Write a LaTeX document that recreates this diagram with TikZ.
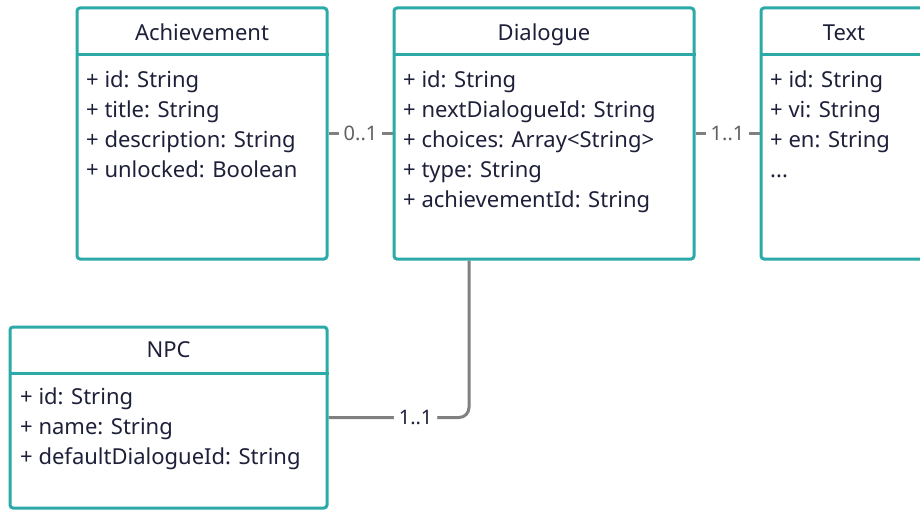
\documentclass[tikz,border=0pt]{standalone}
\usepackage{fontspec}
\setmainfont{Noto Sans}
\usetikzlibrary{backgrounds}

\definecolor{umlteal}{RGB}{43,170,168}
\definecolor{umlink}{RGB}{30,32,58}
\definecolor{linkgray}{RGB}{128,128,128}
\definecolor{multgray}{RGB}{96,96,100}

\tikzset{
  classbox/.style={draw=umlteal, line width=3pt, rounded corners=3pt, fill=white, inner sep=0pt},
  divider/.style={draw=umlteal, line width=3pt},
  classname/.style={text=umlink, font=\fontsize{22}{26}\selectfont, anchor=base, inner sep=0pt},
  attr/.style={text=umlink, font=\fontsize{22}{26}\selectfont, anchor=base west, inner sep=0pt},
  link/.style={draw=linkgray, line width=3pt},
  mult/.style={fill=white, text=multgray, font=\fontsize{20}{24}\selectfont, inner xsep=5pt, inner ysep=2pt}
}

\begin{document}
\begin{tikzpicture}[x=1pt,y=-1pt]
			\useasboundingbox (0,0) rectangle (920,511);
			\clip (0,0) rectangle (920,511);
			% class frames
			\node[classbox, minimum width=250pt, minimum height=251pt] (ach) at (202,133.5) {};
			\node[classbox, minimum width=300pt, minimum height=251pt] (dlg) at (544,133.5) {};
			\node[classbox, minimum width=250pt, minimum height=251pt] (txt) at (886,133.5) {};
			\node[classbox, minimum width=317pt, minimum height=181pt] (npc) at (168.5,417.5) {};
			\draw[divider] (ach.west |- 0,55) -- (ach.east |- 0,55);
			\draw[divider] (dlg.west |- 0,55) -- (dlg.east |- 0,55);
			\draw[divider] (txt.west |- 0,55) -- (txt.east |- 0,55);
			\draw[divider] (npc.west |- 0,373) -- (npc.east |- 0,373);
			% class names
			\node[classname] (ach-name) at (202,41) {Achievement};
			\node[classname] (dlg-name) at (544,41) {Dialogue};
			\node[classname] (txt-name) at (844,41) {Text};
			\node[classname] (npc-name) at (168.5,357) {NPC};
			% attributes
			\foreach \txt [count=\i from 0] in {+ id: String, + title: String, + description: String, + unlocked: Boolean}
				\node[attr] (ach-\i) at (86,87+30*\i) {\txt};
			\foreach \txt [count=\i from 0] in {+ id: String, + nextDialogueId: String, + choices: Array<String>, + type: String, + achievementId: String}
				\node[attr] (dlg-\i) at (403,87+30*\i) {\txt};
			\foreach \txt [count=\i from 0] in {+ id: String, + vi: String, + en: String}
				\node[attr] (txt-\i) at (770,87+30*\i) {\txt};
			\node[attr] (txt-3) at (770,177) {...};
			\foreach \txt [count=\i from 0] in {+ id: String, + name: String, + defaultDialogueId: String}
				\node[attr] (npc-\i) at (20,404+30*\i) {\txt};
			% links
			\coordinate (dlg-foot) at ([xshift=-75pt]dlg.south);
			\begin{pgfonlayer}{background}
			\draw[link] (ach.east) -- node[mult] (m1) {0..1} (dlg.west);
			\draw[link] (dlg.east) -- node[mult] (m2) {1..1} (txt.west);
			\draw[link, rounded corners=10pt] (npc.east) -| node[mult, pos=0.31, text=umlink] (m3) {1..1} (dlg-foot);
			\end{pgfonlayer}
		\end{tikzpicture}
\end{document}
